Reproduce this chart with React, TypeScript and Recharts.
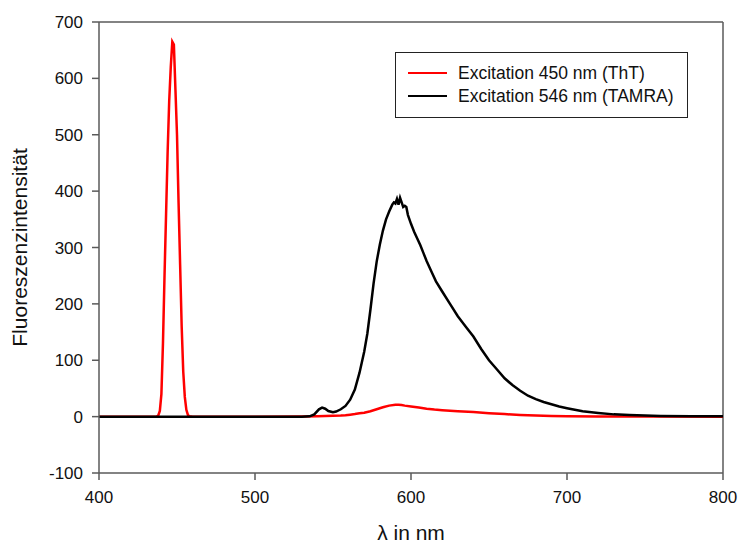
import React from "react";
import {
  LineChart,
  Line,
  XAxis,
  YAxis,
  ReferenceLine,
} from "recharts";

// Wavelengths (nm) and intensities for excitation at 450 nm (ThT)
const redX = [
  400, 430, 435, 437, 438, 439, 440, 441, 442, 443, 444, 445, 446, 447, 448,
  449, 450, 451, 452, 453, 454, 455, 456, 457, 458, 460, 480, 500, 530, 540,
  550, 555, 558, 561, 564, 567, 570, 574, 578, 582, 586, 590, 592, 594, 596,
  600, 605, 610, 615, 620, 630, 640, 650, 660, 670, 680, 690, 700, 720, 750,
  800,
];
const redY = [
  0, 0, 0, 0, 2, 10, 40, 130, 250, 360, 470, 560, 620, 665, 660, 580, 500,
  380, 270, 160, 80, 35, 12, 3, 0.5, 0, 0, 0, 0.3, 0.8, 1.5, 2, 2.5, 3.5, 4.5,
  6, 7, 9.5, 13, 16.5, 19.5, 21, 21, 20.5, 19.5, 18, 16, 14, 12.5, 11.5, 9.5,
  8, 6, 4.5, 3, 2, 1.2, 0.8, 0.3, 0.1, 0,
];

// Wavelengths (nm) and intensities for excitation at 546 nm (TAMRA)
const blackX = [
  400, 450, 500, 530, 535, 538, 541, 543, 545, 547, 550, 552, 555, 558, 561,
  564, 567, 570, 572, 574, 576, 578, 580, 582, 584, 586, 588, 589, 590, 591,
  592, 593, 594, 595, 596, 597, 598, 600, 602, 604, 606, 608, 610, 613, 616,
  620, 625, 630, 635, 640, 645, 650, 655, 660, 665, 670, 675, 680, 685, 690,
  695, 700, 710, 720, 730, 740, 750, 760, 780, 800,
];
const blackY = [
  0, 0, 0, 0, 0.5, 4, 13, 16, 14, 10, 8, 9, 13, 19, 30, 48, 78, 115, 147, 190,
  236, 275, 305, 330, 350, 364, 376, 380, 378, 386, 376, 388, 380, 372, 374,
  372, 358, 342, 328, 316, 304, 290, 276, 258, 240, 222, 200, 178, 160, 142,
  120, 100, 84, 68, 56, 46, 37, 31, 26, 22, 18, 15, 9.5, 6.5, 4, 2.8, 1.8,
  1.2, 0.7, 0.5,
];

const xTicks = [400, 500, 600, 700, 800];
const yTicks = [-100, 0, 100, 200, 300, 400, 500, 600, 700];

const seriesNames = ["Excitation 450 nm (ThT)", "Excitation 546 nm (TAMRA)"];
const seriesColors = ["#ff0000", "#000000"];

const redData = redX.map((x, i) => ({ x, y: redY[i] }));
const blackData = blackX.map((x, i) => ({ x, y: blackY[i] }));

const FONT = "'Liberation Sans', Arial, sans-serif";
const AXIS = "#5a5a5a";

const LegendBox = () => (
  <div
    style={{
      position: "absolute",
      left: 395,
      top: 52,
      boxSizing: "border-box",
      width: 293,
      height: 66,
      border: "1px solid #222",
      background: "#fff",
      fontFamily: FONT,
      fontSize: 17.5,
      color: "#111",
    }}
  >
    {seriesNames.map((name, i) => (
      <div
        key={name}
        style={{
          position: "absolute",
          left: 12,
          top: 9 + i * 23,
          height: 22,
          display: "flex",
          alignItems: "center",
          whiteSpace: "nowrap",
        }}
      >
        <span
          style={{
            display: "inline-block",
            width: 39,
            height: 1.5,
            background: seriesColors[i],
            marginRight: 11,
          }}
        />
        <span>{name}</span>
      </div>
    ))}
  </div>
);

export default function App() {
  return (
    <div
      style={{
        position: "absolute",
        left: 0,
        top: 0,
        width: 738,
        height: 545,
        background: "#fff",
      }}
    >
      <LineChart
        width={738}
        height={545}
        margin={{ top: 22, right: 15, bottom: 0, left: 0 }}
        style={{ fontFamily: FONT }}
      >
        <XAxis
          type="number"
          dataKey="x"
          domain={[400, 800]}
          ticks={xTicks}
          allowDataOverflow
          height={72}
          tickSize={7}
          tickMargin={11}
          stroke={AXIS}
          strokeWidth={1.5}
          tick={{ fill: "#111", fontSize: 17, fontFamily: FONT }}
          label={{
            value: "λ in nm",
            position: "insideBottom",
            offset: 5,
            style: { fontSize: 21, fill: "#111", fontFamily: FONT },
          }}
        />
        <YAxis
          type="number"
          domain={[-100, 700]}
          ticks={yTicks}
          allowDataOverflow
          width={99}
          tickSize={7}
          tickMargin={9}
          stroke={AXIS}
          strokeWidth={1.5}
          tick={{ fill: "#111", fontSize: 17, fontFamily: FONT }}
          label={{
            value: "Fluoreszenzintensität",
            angle: -90,
            position: "insideLeft",
            offset: 20,
            style: {
              fontSize: 21,
              fill: "#111",
              fontFamily: FONT,
              textAnchor: "middle",
            },
          }}
        />
        <ReferenceLine y={700} stroke={AXIS} strokeWidth={1.5} />
        <ReferenceLine x={800} stroke={AXIS} strokeWidth={1.5} />
        <Line
          data={redData}
          dataKey="y"
          type="linear"
          stroke={seriesColors[0]}
          strokeWidth={2.5}
          dot={false}
          isAnimationActive={false}
          name={seriesNames[0]}
        />
        <Line
          data={blackData}
          dataKey="y"
          type="linear"
          stroke={seriesColors[1]}
          strokeWidth={2.5}
          dot={false}
          isAnimationActive={false}
          name={seriesNames[1]}
        />
      </LineChart>
      <LegendBox />
    </div>
  );
}
